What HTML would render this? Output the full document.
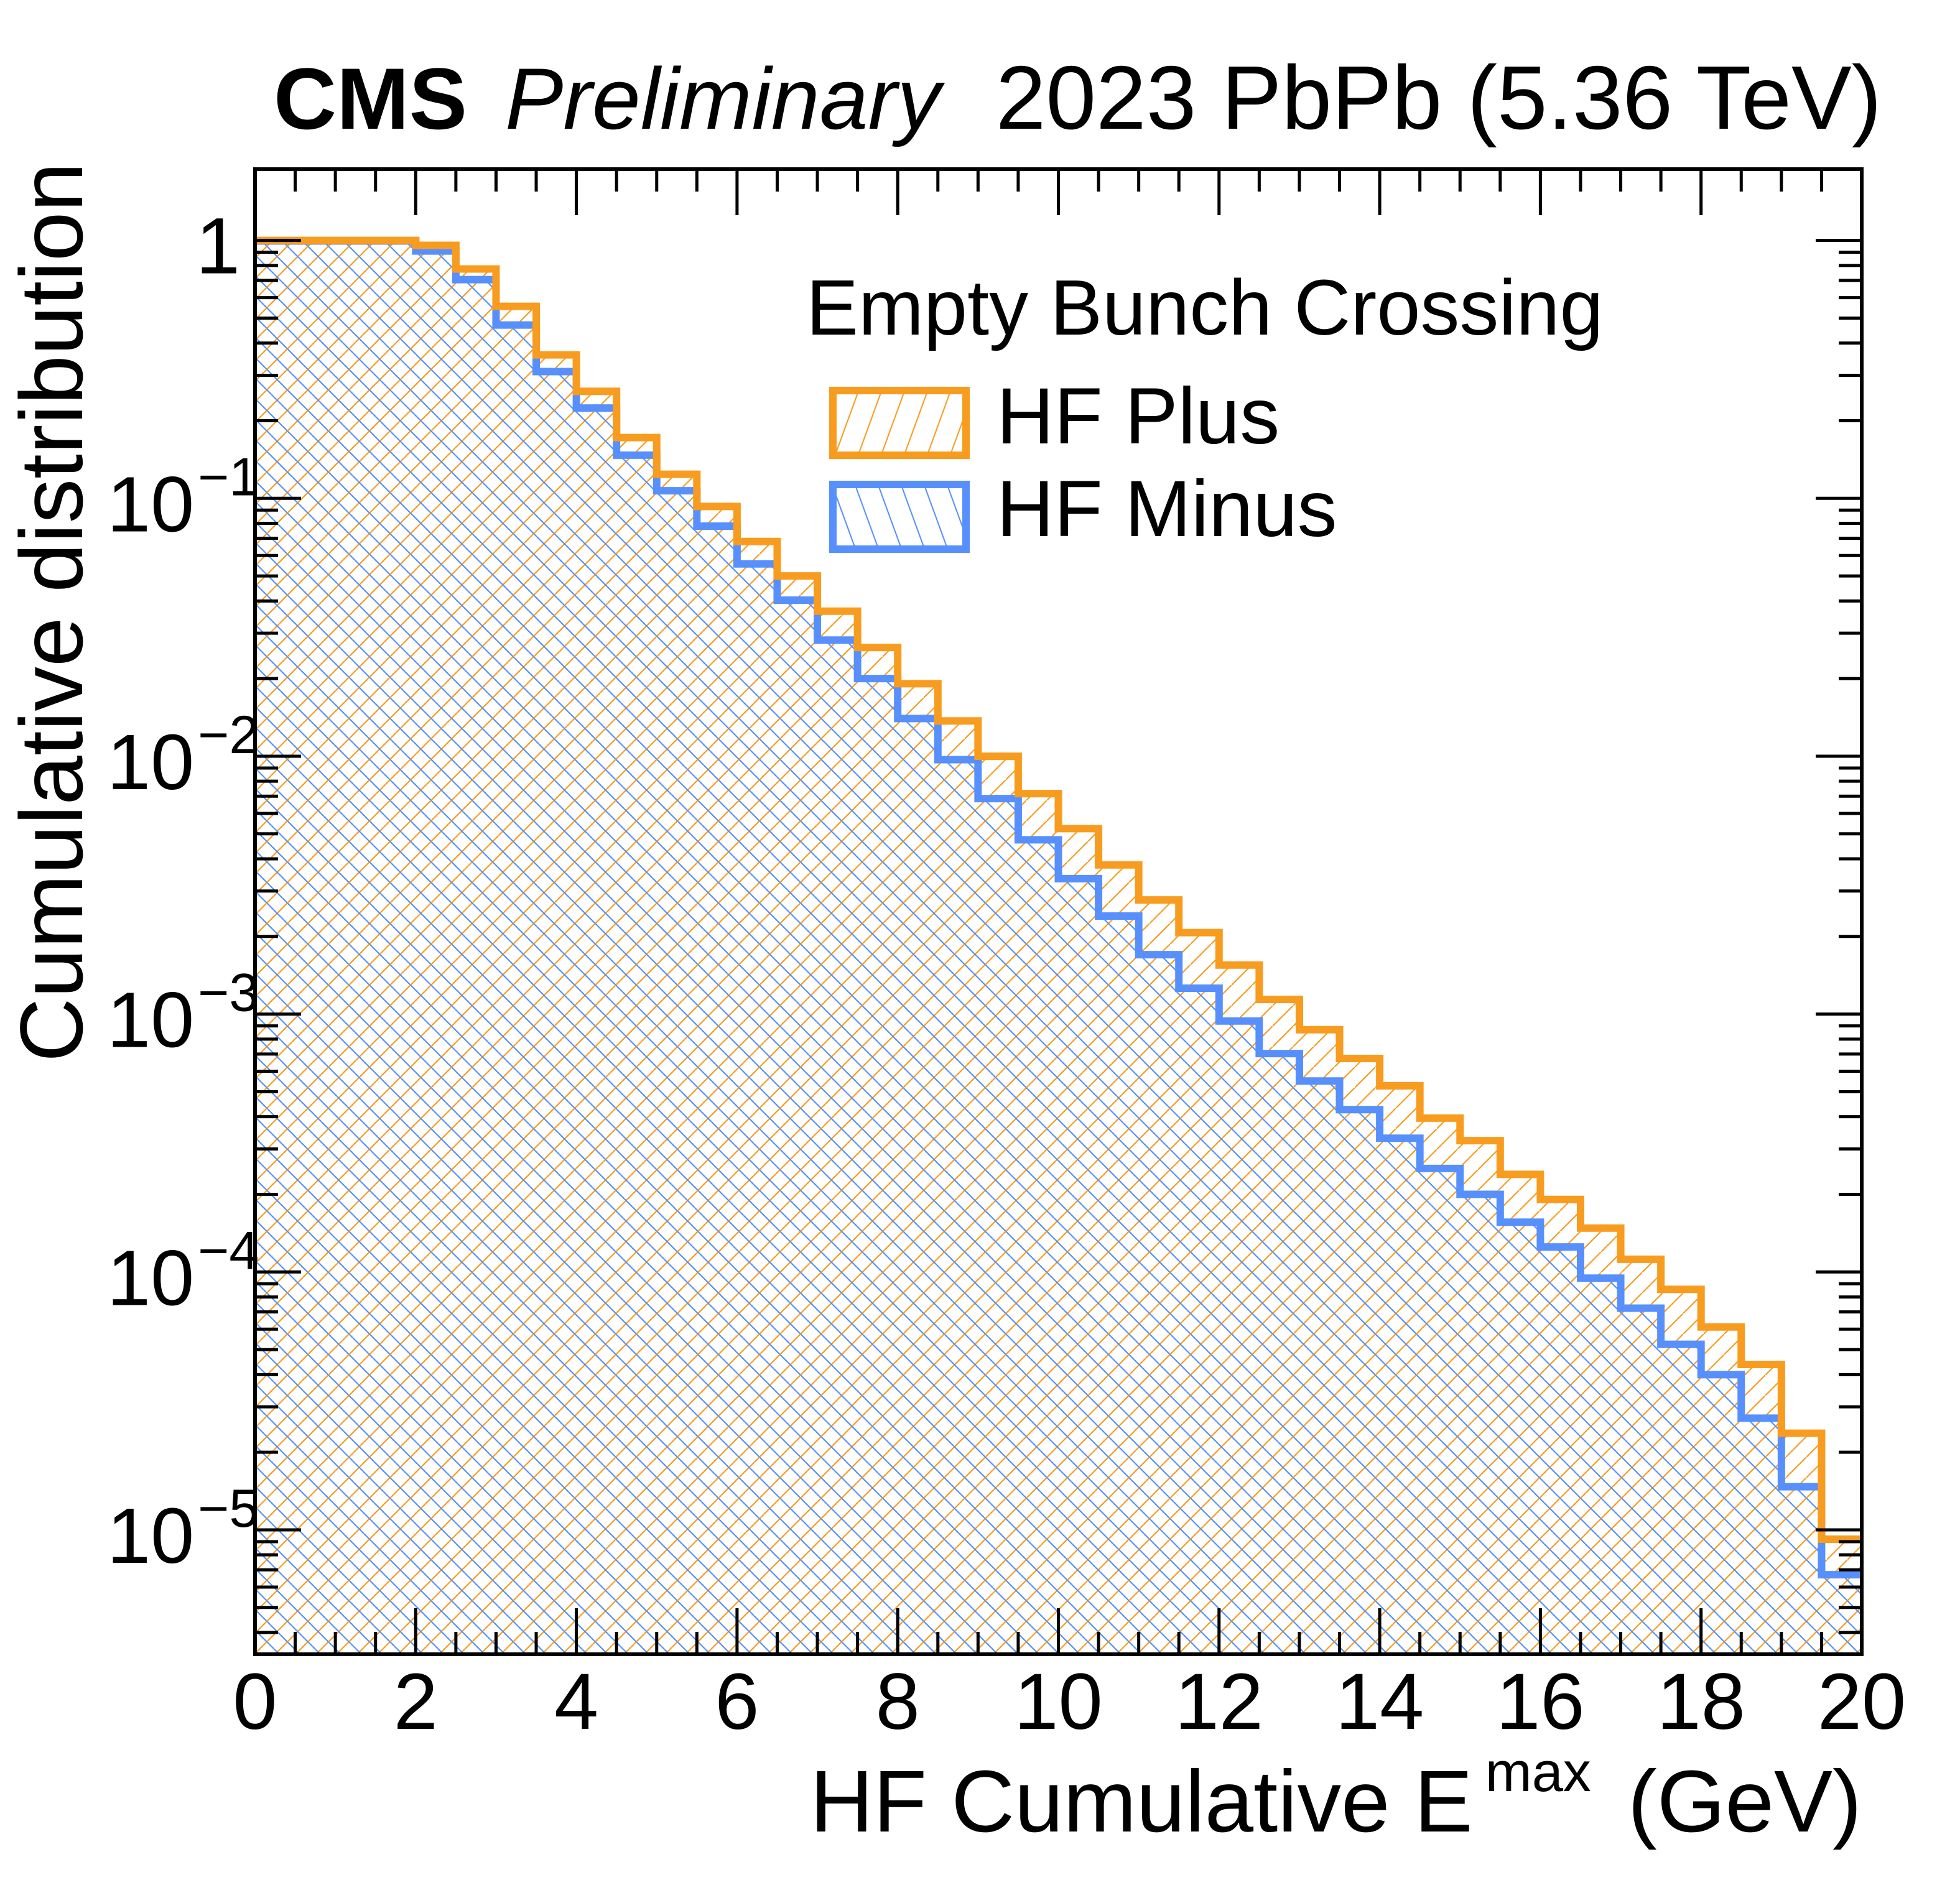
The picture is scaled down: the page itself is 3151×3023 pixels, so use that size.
<!DOCTYPE html>
<html><head><meta charset="utf-8"><style>
html,body{margin:0;padding:0;background:#fff;}
svg{display:block;font-family:"Liberation Sans",Arial,sans-serif;}
</style></head><body>
<svg id="chart" width="3151" height="3023" viewBox="0 0 3151 3023" xmlns="http://www.w3.org/2000/svg">
<defs>
<pattern id="hatchOrange" patternUnits="userSpaceOnUse" width="33" height="33">
<line x1="-3" y1="36" x2="36" y2="-3" stroke="#f89c20" stroke-width="2.2"/>
</pattern>
<pattern id="hatchBlue" patternUnits="userSpaceOnUse" width="33" height="33">
<line x1="-3" y1="-3" x2="36" y2="36" stroke="#5790fc" stroke-width="2.2"/>
</pattern>
<pattern id="legOrange" patternUnits="userSpaceOnUse" width="37" height="100" patternTransform="skewX(-20)">
<line x1="18" y1="0" x2="18" y2="100" stroke="#f89c20" stroke-width="2.2"/>
</pattern>
<pattern id="legBlue" patternUnits="userSpaceOnUse" width="37" height="100" patternTransform="skewX(20)">
<line x1="18" y1="0" x2="18" y2="100" stroke="#5790fc" stroke-width="2.2"/>
</pattern>
<clipPath id="plotClip"><rect x="410" y="272" width="2583" height="2388"/></clipPath>
</defs>
<g id="hist" clip-path="url(#plotClip)"></g>
<g id="axes"></g>
<text x="440" y="207" font-size="140" font-weight="bold">CMS</text>
<text x="812" y="207" font-size="140" font-style="italic">Preliminary</text>
<text x="3025" y="207" font-size="145" text-anchor="end">2023 PbPb (5.36 TeV)</text>
<text transform="translate(132,1708) rotate(-90)" font-size="143" textLength="1447" lengthAdjust="spacingAndGlyphs">Cumulative distribution</text>
<text x="2993" y="2945" font-size="141" text-anchor="end">HF Cumulative E<tspan font-size="90" dx="20" dy="-65">max</tspan><tspan dx="20" dy="65"> (GeV)</tspan></text>
<g>
<text x="1296" y="538" font-size="126">Empty Bunch Crossing</text>
<rect x="1339" y="628" width="214" height="104" fill="url(#legOrange)" stroke="#f89c20" stroke-width="12"/>
<text x="1602" y="713" font-size="128">HF Plus</text>
<rect x="1339" y="779" width="214" height="104" fill="url(#legBlue)" stroke="#5790fc" stroke-width="12"/>
<text x="1602" y="862" font-size="128">HF Minus</text>
</g>
</svg>
<script>
const binEdgesStart = 0, binWidth = 0.5;
const hfPlus = [1.0,1.0,1.0,1.0,0.957,0.775,0.555,0.36,0.26,0.172,0.124,0.093,0.068,0.050,0.0365,0.0264,0.0191,0.0137,0.0100,0.00716,0.00524,0.00379,0.00277,0.00207,0.00155,0.00114,0.00087,0.000673,0.000527,0.000395,0.000323,0.000239,0.000191,0.000148,0.000112,8.56e-5,6.12e-5,4.38e-5,2.37e-5,9.2e-6];
const hfMinus = [0.995,0.995,0.995,0.995,0.91,0.705,0.47,0.31,0.224,0.147,0.107,0.078,0.0557,0.0403,0.0282,0.020,0.0140,0.0097,0.00685,0.00474,0.00335,0.0024,0.0017,0.00126,0.00094,0.000703,0.00055,0.000426,0.00033,0.000252,0.0002,0.000156,0.000125,9.46e-5,7.24e-5,5.24e-5,4.0e-5,2.71e-5,1.47e-5,6.7e-6];
const xTickLabels = ["0","2","4","6","8","10","12","14","16","18","20"];
const yDecades = [0,-1,-2,-3,-4,-5];

const NS = "http://www.w3.org/2000/svg";
const X0 = 410, X1 = 2993, Y0 = 272, Y1 = 2660;
const xMin = 0, xMax = 20;
const yTopLog = Math.log10(1.89), yBotLog = -5 - 200/414.6;
function xs(v){ return X0 + (v - xMin) / (xMax - xMin) * (X1 - X0); }
function ys(v){ return Y0 + (yTopLog - Math.log10(v)) / (yTopLog - yBotLog) * (Y1 - Y0); }

function mk(tag, attrs, parent){ const e = document.createElementNS(NS, tag); for (const k in attrs) e.setAttribute(k, attrs[k]); parent.appendChild(e); return e; }

const hist = document.getElementById("hist");
function stepPath(vals){
  let d = "M" + xs(binEdgesStart) + "," + ys(vals[0]);
  vals.forEach((v,i)=>{
    const a = binEdgesStart + i*binWidth, b = a + binWidth;
    d += " L" + xs(a) + "," + ys(v) + " L" + xs(b) + "," + ys(v);
  });
  return d;
}
function areaPath(vals){
  const n = vals.length;
  return stepPath(vals) + " L" + xs(binEdgesStart + n*binWidth) + "," + (Y1+20) + " L" + xs(binEdgesStart) + "," + (Y1+20) + " Z";
}
const fo = mk("path", {d: areaPath(hfPlus), fill: "url(#hatchOrange)"}, hist);


const fb = mk("path", {d: areaPath(hfMinus), fill: "url(#hatchBlue)"}, hist);


const lb = mk("path", {d: stepPath(hfMinus), fill: "none", stroke: "#5790fc", "stroke-width": 12, "stroke-linejoin": "miter"}, hist);


const lo = mk("path", {d: stepPath(hfPlus), fill: "none", stroke: "#f89c20", "stroke-width": 12, "stroke-linejoin": "miter"}, hist);



const axes = document.getElementById("axes");
for (let v = 0; v <= 20.001; v += 0.5){
  const major = Math.abs(v/2 - Math.round(v/2)) < 1e-6;
  const len = major ? 74 : 36;
  const x = xs(v);
  const t1 = mk("line", {x1:x, y1:Y1, x2:x, y2:Y1-len, stroke:"#000", "stroke-width":5}, axes);
  
  
  const t2 = mk("line", {x1:x, y1:Y0, x2:x, y2:Y0+len, stroke:"#000", "stroke-width":5}, axes);
  
  
}
xTickLabels.forEach((lab,i)=>{
  const t = mk("text", {x: xs(i*2), y: 2780, "font-size": 128, "text-anchor": "middle"}, axes);
  t.textContent = lab;
  
  
});
for (let d = -6; d <= 0; d++){
  for (let m = 1; m <= 9; m++){
    const v = m * Math.pow(10, d);
    const y = ys(v);
    if (y < Y0 || y > Y1) continue;
    const len = m === 1 ? 74 : 37;
    const t1 = mk("line", {x1:X0, y1:y, x2:X0+len, y2:y, stroke:"#000", "stroke-width":5}, axes);
    
    
    const t2 = mk("line", {x1:X1, y1:y, x2:X1-len, y2:y, stroke:"#000", "stroke-width":5}, axes);
    
    
  }
}
yDecades.forEach(d=>{
  const y = ys(Math.pow(10,d)) + 53;
  if (d === 0){
    const t = mk("text", {x: 386, y: y, "font-size": 128, "text-anchor": "end"}, axes);
    t.textContent = "1";
    
    
  } else {
    const t = mk("text", {x: 172, y: y, "font-size": 126}, axes);
    
    
    const a = mk("tspan", {}, t); a.textContent = "10";
    const b = mk("tspan", {"font-size": 86, dx: 6, dy: -58}, t); b.textContent = "\u2212" + (-d);
  }
});
const frame = mk("rect", {x:X0, y:Y0, width:X1-X0, height:Y1-Y0, fill:"none", stroke:"#000", "stroke-width":6}, axes);


</script>
</body></html>
